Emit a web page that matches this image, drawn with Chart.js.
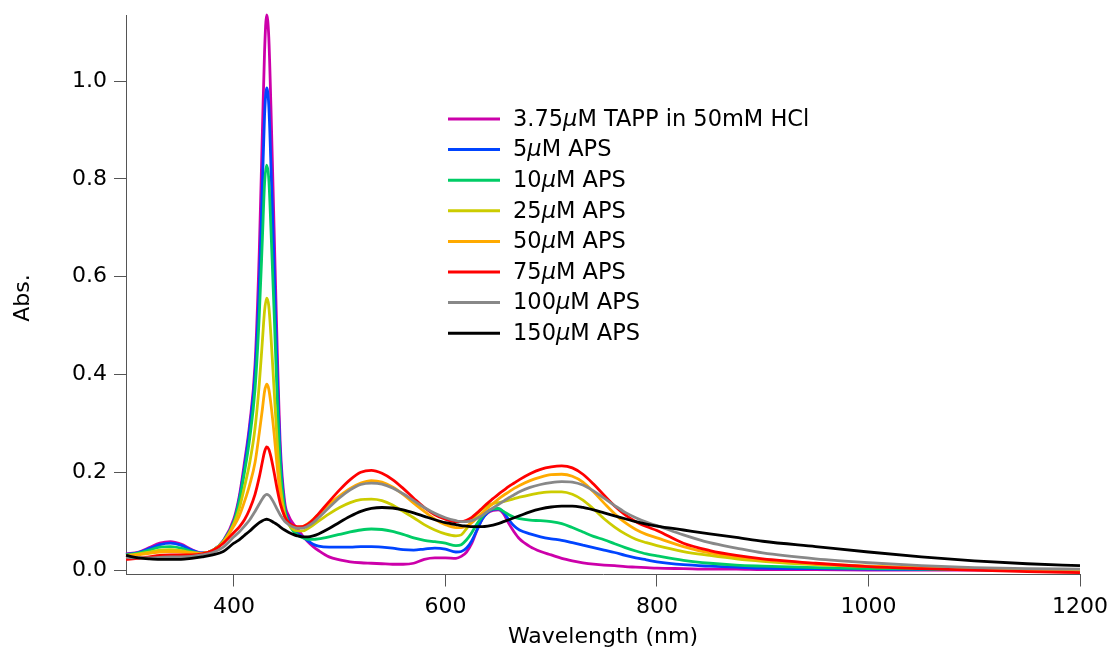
<!DOCTYPE html>
<html>
<head>
<meta charset="utf-8">
<script src="https://cdn.jsdelivr.net/npm/chart.js@4.4.1/dist/chart.umd.min.js"></script>
<style>
  html, body { margin: 0; padding: 0; background: #ffffff; }
  #wrap { width: 1110px; height: 650px; }
</style>
</head>
<body>
<div id="wrap"><canvas id="spectra" width="1110" height="650"></canvas></div>
<script>
// UV-Vis-NIR spectra of TAPP with increasing APS concentration
const wavelength = [298, 310, 320, 330, 340, 350, 360, 370, 380, 390,
  400, 405, 410, 415, 420, 424, 427, 429, 431, 433,
  435, 438, 441, 444, 448, 452, 456, 460, 465, 470,
  475, 480, 490, 500, 510, 520, 530, 540, 550, 560,
  570, 580, 590, 600, 610, 615, 620, 625, 630, 635,
  640, 645, 650, 655, 660, 665, 670, 680, 690, 700,
  710, 720, 730, 740, 750, 760, 770, 780, 790, 800,
  825, 850, 875, 900, 950, 1000, 1050, 1100, 1150, 1200];

const tappHCl = [0.033, 0.037, 0.046, 0.055, 0.058, 0.053, 0.042, 0.035, 0.040, 0.060,
  0.105, 0.15, 0.22, 0.30, 0.42, 0.65, 0.90, 1.06, 1.135, 1.09,
  0.95, 0.70, 0.45, 0.25, 0.14, 0.11, 0.095, 0.085, 0.07, 0.058,
  0.048, 0.040, 0.027, 0.021, 0.017, 0.015, 0.014, 0.013, 0.012, 0.012,
  0.014, 0.022, 0.025, 0.025, 0.024, 0.028, 0.037, 0.055, 0.082, 0.105,
  0.117, 0.122, 0.123, 0.115, 0.095, 0.078, 0.064, 0.048, 0.038, 0.031,
  0.024, 0.019, 0.015, 0.012, 0.010, 0.009, 0.007, 0.006, 0.005, 0.004,
  0.003, 0.002, 0.002, 0.001, 0.001, 0.0, 0.0, 0.0, 0.0, 0.0];

const aps5 = [0.032, 0.036, 0.044, 0.052, 0.055, 0.051, 0.041, 0.035, 0.040, 0.060,
  0.10, 0.145, 0.21, 0.29, 0.40, 0.58, 0.79, 0.93, 0.986, 0.95,
  0.83, 0.62, 0.40, 0.23, 0.13, 0.10, 0.085, 0.076, 0.068, 0.060,
  0.053, 0.049, 0.047, 0.047, 0.047, 0.048, 0.048, 0.047, 0.045, 0.042,
  0.041, 0.043, 0.045, 0.043, 0.037, 0.038, 0.045, 0.060, 0.083, 0.105,
  0.118, 0.124, 0.125, 0.118, 0.103, 0.090, 0.082, 0.074, 0.068, 0.064,
  0.061, 0.056, 0.051, 0.046, 0.041, 0.036, 0.030, 0.025, 0.021, 0.017,
  0.011, 0.008, 0.006, 0.004, 0.003, 0.002, 0.001, 0.001, 0.0, 0.0];

const aps10 = [0.031, 0.035, 0.041, 0.047, 0.048, 0.045, 0.038, 0.034, 0.040, 0.059,
  0.098, 0.14, 0.20, 0.27, 0.37, 0.52, 0.68, 0.79, 0.828, 0.80,
  0.70, 0.53, 0.35, 0.21, 0.125, 0.095, 0.080, 0.072, 0.066, 0.063,
  0.063, 0.064, 0.068, 0.073, 0.078, 0.082, 0.084, 0.083, 0.079, 0.073,
  0.066, 0.061, 0.058, 0.055, 0.050, 0.052, 0.062, 0.077, 0.095, 0.110,
  0.120, 0.125, 0.126, 0.120, 0.113, 0.108, 0.105, 0.102, 0.101, 0.099,
  0.095, 0.087, 0.078, 0.069, 0.062, 0.054, 0.046, 0.039, 0.033, 0.029,
  0.020, 0.014, 0.010, 0.008, 0.005, 0.003, 0.002, 0.001, 0.0, 0.0];

const aps25 = [0.030, 0.033, 0.037, 0.041, 0.042, 0.040, 0.036, 0.034, 0.040, 0.058,
  0.095, 0.125, 0.17, 0.22, 0.29, 0.38, 0.47, 0.53, 0.556, 0.54,
  0.48, 0.37, 0.26, 0.17, 0.115, 0.093, 0.083, 0.080, 0.080, 0.085,
  0.092, 0.100, 0.115, 0.128, 0.138, 0.144, 0.145, 0.142, 0.133, 0.120,
  0.107, 0.093, 0.082, 0.074, 0.070, 0.072, 0.085, 0.100, 0.115, 0.125,
  0.132, 0.136, 0.138, 0.140, 0.143, 0.146, 0.149, 0.154, 0.158, 0.160,
  0.160, 0.155, 0.143, 0.125, 0.105, 0.088, 0.074, 0.063, 0.056, 0.050,
  0.038, 0.030, 0.023, 0.018, 0.011, 0.007, 0.004, 0.002, 0.001, 0.0];

const aps50 = [0.029, 0.031, 0.034, 0.037, 0.038, 0.037, 0.035, 0.034, 0.040, 0.057,
  0.090, 0.110, 0.140, 0.175, 0.22, 0.28, 0.33, 0.365, 0.38, 0.37,
  0.34, 0.28, 0.21, 0.15, 0.11, 0.094, 0.088, 0.087, 0.089, 0.095,
  0.104, 0.114, 0.135, 0.152, 0.167, 0.178, 0.183, 0.180, 0.170, 0.155,
  0.137, 0.120, 0.104, 0.093, 0.087, 0.087, 0.090, 0.097, 0.107, 0.117,
  0.127, 0.136, 0.145, 0.153, 0.160, 0.167, 0.173, 0.183, 0.190, 0.195,
  0.196, 0.192, 0.180, 0.160, 0.137, 0.115, 0.097, 0.083, 0.073, 0.066,
  0.048, 0.035, 0.027, 0.021, 0.013, 0.008, 0.005, 0.003, 0.001, 0.0];

const aps75 = [0.022, 0.024, 0.027, 0.030, 0.031, 0.031, 0.031, 0.033, 0.040, 0.055,
  0.077, 0.088, 0.103, 0.125, 0.155, 0.19, 0.222, 0.242, 0.252, 0.247,
  0.232, 0.200, 0.165, 0.135, 0.110, 0.097, 0.091, 0.089, 0.089, 0.094,
  0.103, 0.115, 0.140, 0.164, 0.185, 0.200, 0.204, 0.198, 0.185, 0.167,
  0.147, 0.128, 0.113, 0.104, 0.099, 0.099, 0.102, 0.108, 0.117, 0.127,
  0.137, 0.146, 0.155, 0.163, 0.171, 0.178, 0.185, 0.197, 0.206, 0.211,
  0.213, 0.209, 0.196, 0.176, 0.153, 0.131, 0.113, 0.099, 0.089, 0.081,
  0.055, 0.040, 0.030, 0.023, 0.014, 0.007, 0.003, 0.0, -0.003, -0.005];

const aps100 = [0.026, 0.025, 0.025, 0.026, 0.027, 0.027, 0.028, 0.031, 0.036, 0.047,
  0.068, 0.078, 0.090, 0.103, 0.120, 0.135, 0.146, 0.152, 0.155, 0.153,
  0.148, 0.137, 0.124, 0.112, 0.100, 0.093, 0.088, 0.086, 0.086, 0.090,
  0.097, 0.107, 0.128, 0.148, 0.164, 0.175, 0.178, 0.176, 0.168, 0.156,
  0.142, 0.128, 0.116, 0.107, 0.101, 0.099, 0.099, 0.101, 0.106, 0.112,
  0.120, 0.127, 0.134, 0.141, 0.148, 0.154, 0.160, 0.169, 0.175, 0.179,
  0.181, 0.180, 0.174, 0.162, 0.147, 0.132, 0.118, 0.107, 0.098, 0.091,
  0.072, 0.056, 0.045, 0.035, 0.023, 0.015, 0.009, 0.005, 0.003, 0.002];

const aps150 = [0.030, 0.025, 0.023, 0.022, 0.022, 0.022, 0.024, 0.027, 0.031, 0.038,
  0.055, 0.062, 0.071, 0.080, 0.090, 0.097, 0.101, 0.103, 0.104, 0.103,
  0.101, 0.097, 0.093, 0.088, 0.082, 0.077, 0.073, 0.070, 0.068, 0.068,
  0.070, 0.074, 0.085, 0.098, 0.110, 0.120, 0.126, 0.128, 0.127, 0.123,
  0.117, 0.110, 0.103, 0.097, 0.093, 0.091, 0.090, 0.089, 0.089, 0.089,
  0.090, 0.092, 0.095, 0.099, 0.103, 0.107, 0.111, 0.119, 0.125, 0.129,
  0.131, 0.131, 0.128, 0.123, 0.117, 0.111, 0.105, 0.099, 0.094, 0.090,
  0.082, 0.074, 0.067, 0.059, 0.048, 0.037, 0.027, 0.019, 0.013, 0.009];

const seriesLabels = ['3.75μM TAPP in 50mM HCl', '5μM APS', '10μM APS', '25μM APS',
  '50μM APS', '75μM APS', '100μM APS', '150μM APS'];
const seriesValues = [tappHCl, aps5, aps10, aps25, aps50, aps75, aps100, aps150];
const seriesColors = ['#cc00aa', '#0044ff', '#00cc66', '#cccc00', '#ffaa00', '#ff0000', '#888888', '#000000'];

const xTicks = [400, 600, 800, 1000, 1200];
const yTicks = [0.0, 0.2, 0.4, 0.6, 0.8, 1.0];
const xTitle = 'Wavelength (nm)';
const yTitle = 'Abs.';

const FONT = '"DejaVu Sans", Verdana, sans-serif';
const FONT_SIZE = 22;
const LEGEND_FONT_SIZE = 22.5;

// legend drawn inside the plot area, with the micro sign set in italics
const inlineLegend = {
  id: 'inlineLegend',
  afterDraw(chart) {
    const ctx = chart.ctx;
    ctx.save();
    ctx.textBaseline = 'middle';
    ctx.textAlign = 'left';
    seriesLabels.forEach((label, i) => {
      const y = 119 + i * 30.6;
      ctx.strokeStyle = seriesColors[i];
      ctx.lineWidth = 3;
      ctx.beginPath();
      ctx.moveTo(448, y);
      ctx.lineTo(500, y);
      ctx.stroke();
      ctx.fillStyle = '#000';
      let x = 513;
      label.split('μ').forEach((part, k) => {
        if (k > 0) {
          ctx.font = `italic ${LEGEND_FONT_SIZE}px ${FONT}`;
          ctx.fillText('μ', x, y + 1);
          x += ctx.measureText('μ').width;
        }
        ctx.font = `${LEGEND_FONT_SIZE}px ${FONT}`;
        ctx.fillText(part, x, y + 1);
        x += ctx.measureText(part).width;
      });
    });
    ctx.restore();
  }
};

// axis titles
const axisTitles = {
  id: 'axisTitles',
  afterDraw(chart) {
    const ctx = chart.ctx;
    const area = chart.chartArea;
    ctx.save();
    ctx.fillStyle = '#000';
    ctx.font = `${FONT_SIZE}px ${FONT}`;
    ctx.textAlign = 'center';
    ctx.textBaseline = 'middle';
    ctx.fillText(xTitle, (area.left + area.right) / 2, 637);
    ctx.translate(23, 298);
    ctx.rotate(-Math.PI / 2);
    ctx.fillText(yTitle, 0, 0);
    ctx.restore();
  }
};

const datasets = seriesValues.map((vals, i) => ({
  label: seriesLabels[i],
  data: wavelength.map((w, j) => ({ x: w, y: vals[j] })),
  borderColor: seriesColors[i],
  backgroundColor: seriesColors[i],
  borderWidth: 2.8,
  pointRadius: 0,
  fill: false,
  cubicInterpolationMode: 'monotone',
  clip: 4,
  order: seriesValues.length - i
}));

new Chart(document.getElementById('spectra'), {
  type: 'line',
  data: { datasets },
  options: {
    responsive: false,
    animation: false,
    devicePixelRatio: 1,
    layout: { padding: { left: 0, right: 30, top: 15, bottom: 0 } },
    plugins: { legend: { display: false }, tooltip: { enabled: false } },
    scales: {
      x: {
        type: 'linear',
        min: 298,
        max: 1200,
        afterBuildTicks: s => { s.ticks = xTicks.map(v => ({ value: v })); },
        afterFit: s => { s.height = 75.5; s.paddingLeft = 0; s.paddingRight = 0; },
        grid: { drawOnChartArea: false, drawTicks: true, tickLength: 12, color: '#555', lineWidth: 1 },
        border: { display: true, color: '#555', width: 1 },
        ticks: {
          color: '#000', padding: 8, maxRotation: 0,
          font: { family: FONT, size: FONT_SIZE },
          callback: v => String(v)
        }
      },
      y: {
        type: 'linear',
        min: -0.009,
        max: 1.135,
        afterBuildTicks: s => { s.ticks = yTicks.map(v => ({ value: v })); },
        afterFit: s => { s.width = 126; s.paddingTop = 0; s.paddingBottom = 0; },
        grid: { drawOnChartArea: false, drawTicks: true, tickLength: 12, color: '#555', lineWidth: 1 },
        border: { display: true, color: '#555', width: 1 },
        ticks: {
          color: '#000', padding: 7,
          font: { family: FONT, size: FONT_SIZE },
          callback: v => v.toFixed(1)
        }
      }
    }
  },
  plugins: [inlineLegend, axisTitles]
});
</script>
</body>
</html>
